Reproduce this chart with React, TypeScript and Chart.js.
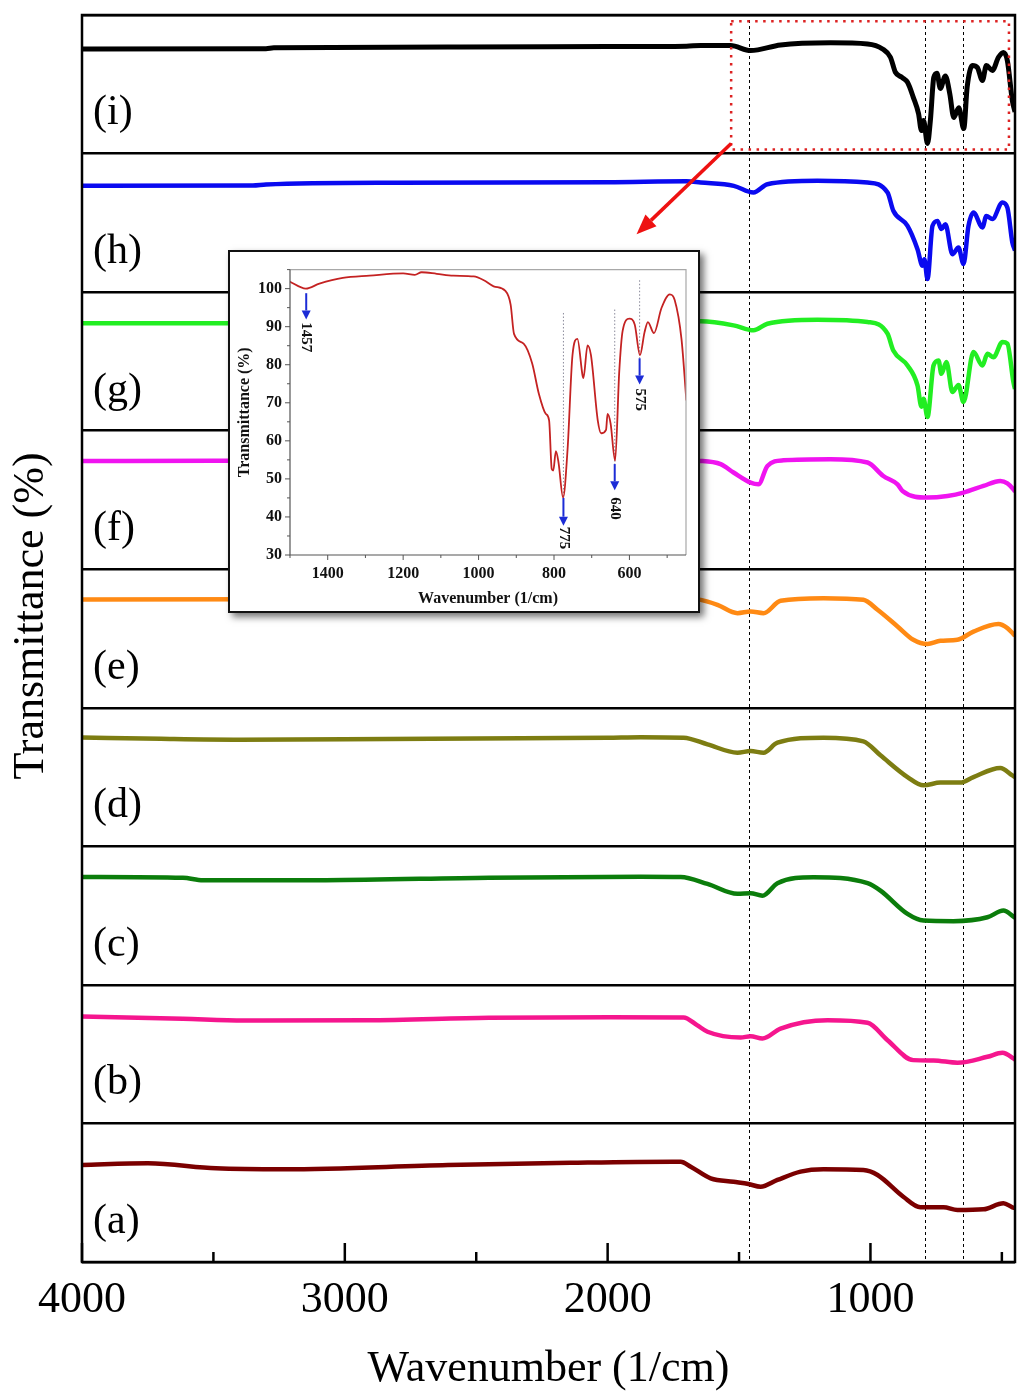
import React, { useEffect, useRef } from 'react';
import { Chart, registerables } from 'chart.js';
Chart.register(...registerables);

// ---------------- main figure data ----------------
const PANEL_LABELS = ['(a)', '(b)', '(c)', '(d)', '(e)', '(f)', '(g)', '(h)', '(i)'];
const PANEL_COLORS = ['#7b0000', '#f5168e', '#0b7d0b', '#7d7d12', '#ff8a14', '#f014f0', '#22ee22', '#0a0af0', '#000000'];
const X_MAJOR = [4000, 3000, 2000, 1000];
const X_MINOR = [3500, 2500, 1500, 500];
const MARKER_LINES = [1464, 791, 647];

// [wavenumber, transmittance within its panel (0-100)]
const curveA: [number, number][] = [[4000, 70], [3749, 71.2], [3490, 67.6], [3228, 66.9], [2608, 70], [2141, 71.6], [1753, 72.4], [1722, 72.4], [1684, 68.8], [1608, 60.4], [1521, 57.9], [1464, 56.3], [1418, 54.3], [1354, 59.2], [1266, 65.2], [1179, 66.9], [1027, 66.4], [973, 62.8], [875, 47.1], [810, 39.5], [722, 39.5], [669, 37.5], [570, 38], [494, 42.4], [460, 39.5], [450, 39]];
const curveB: [number, number][] = [[4000, 77.2], [3616, 75.5], [3384, 74.3], [2916, 74.5], [2452, 76.3], [1989, 76.7], [1711, 76.5], [1660, 71], [1620, 66.2], [1494, 62], [1456, 63], [1411, 61.3], [1342, 68.5], [1163, 74.5], [1011, 72.7], [935, 60.1], [837, 45.7], [760, 45.5], [669, 43.8], [555, 48.1], [498, 51], [456, 46.9], [450, 46]];
const curveC: [number, number][] = [[4000, 77.9], [3616, 77.3], [3540, 75.5], [3072, 75.6], [2452, 77.4], [1874, 78.1], [1722, 77.9], [1620, 72.9], [1506, 65.7], [1456, 66.2], [1411, 64.4], [1354, 73.4], [1217, 77.7], [1011, 73.4], [962, 68], [859, 51.2], [798, 46.4], [684, 46], [555, 48.8], [494, 53.6], [456, 49.3], [450, 48.5]];
const curveD: [number, number][] = [[4000, 78.6], [3700, 77.6], [3400, 77], [3000, 77.2], [2500, 77.8], [2000, 78.4], [1874, 78.8], [1711, 78.4], [1620, 73.6], [1506, 67.6], [1456, 68.8], [1407, 67.6], [1354, 74.8], [1179, 78.4], [1027, 75.8], [962, 65.7], [859, 50], [798, 44], [734, 46], [658, 46], [608, 50], [506, 56.5], [460, 51.2], [450, 50]];
const curveE: [number, number][] = [[4000, 78.2], [2000, 78.5], [1700, 78.5], [1646, 77.9], [1582, 74.3], [1506, 68.3], [1456, 69.5], [1407, 68.3], [1342, 77.2], [1179, 79.1], [1027, 77.9], [973, 70.7], [897, 58.7], [837, 49.1], [783, 46], [734, 48.3], [669, 49.1], [608, 55], [513, 60.4], [479, 57.5], [456, 53.2], [450, 52]];
const curveF: [number, number][] = [[4000, 78.1], [3500, 78.3], [1700, 78.3], [1646, 78.1], [1570, 75.8], [1521, 69.8], [1456, 62.5], [1426, 61.3], [1392, 74.5], [1331, 78.6], [1152, 79.4], [1011, 77], [951, 67.3], [897, 61.3], [878, 56.5], [783, 51.7], [707, 52.9], [646, 55.3], [570, 60.1], [506, 63.7], [479, 62], [456, 57.7], [450, 56]];
const curveG: [number, number][] = [[4000, 77.5], [2000, 78], [1700, 78.5], [1646, 78.9], [1521, 76], [1445, 72.4], [1392, 77.2], [1202, 80.1], [1011, 78.4], [935, 70], [913, 57.9], [859, 47.1], [821, 32.7], [806, 17.3], [798, 23], [783, 9.9], [760, 47], [741, 50.7], [730, 41], [711, 49.5], [688, 27.9], [665, 33], [646, 20.7], [608, 56.7], [574, 47], [555, 55.5], [532, 53], [498, 64], [479, 62.8], [456, 35], [450, 30]];
const curveH: [number, number][] = [[4000, 76.7], [3350, 77], [3300, 77.7], [2800, 79], [2000, 79.3], [1700, 80], [1646, 79.1], [1520, 76.7], [1445, 71.9], [1392, 77.9], [1202, 80.3], [1011, 79.1], [935, 71.9], [913, 58.7], [859, 47.8], [821, 31], [802, 19], [795, 23.8], [783, 9.4], [764, 47.8], [745, 51.4], [730, 45.5], [715, 49], [688, 27.4], [665, 32.2], [646, 20.2], [627, 47.8], [608, 57.5], [574, 46.7], [559, 55], [536, 52.7], [498, 64.7], [479, 61], [460, 35.8], [450, 30]];
const curveI: [number, number][] = [[4000, 75.5], [3300, 75.7], [3270, 76.3], [2560, 76.9], [2000, 77.2], [1700, 77.5], [1646, 78], [1532, 78], [1456, 74.3], [1342, 78.4], [1152, 79.9], [1011, 79.1], [954, 75.5], [924, 69.5], [905, 58.7], [880, 55], [859, 51.4], [837, 40.6], [817, 28.8], [806, 16.6], [798, 23.8], [783, 7.2], [772, 23.8], [759, 55], [747, 58], [734, 47], [715, 56], [698, 43], [683, 26], [664, 33], [645, 18], [632, 48], [612, 63.5], [593, 62], [574, 52.7], [559, 63.5], [536, 60], [513, 69.5], [494, 73], [479, 67], [460, 38], [450, 30]];
const CURVES = [curveA, curveB, curveC, curveD, curveE, curveF, curveG, curveH, curveI];

// zoom box (wavenumber range and panel-(i) transmittance range) and arrow
const ZOOM_BOX_WN = [1530, 473];
const ZOOM_BOX_T = [2.9, 95.5];
const ARROW_FROM: [number, number] = [1530, 8 + 0.072];
const ARROW_TO: [number, number] = [1890, 7 + 0.418];

// ---------------- inset data ----------------
const INSET_X_TICKS = [1400, 1200, 1000, 800, 600];
const INSET_X_MINOR = [1500, 1300, 1100, 900, 700, 500];
const INSET_Y_TICKS = [30, 40, 50, 60, 70, 80, 90, 100];
const INSET_Y_MINOR = [35, 45, 55, 65, 75, 85, 95, 105];
const insetCurve: [number, number][] = [[1502, 101.9], [1458, 100], [1422, 101.3], [1360, 102.8], [1289, 103.4], [1200, 104], [1169, 103.6], [1151, 104.3], [1111, 103.9], [1067, 103.4], [1013, 103.2], [986, 102.2], [960, 100.6], [929, 99.4], [915, 95.8], [906, 88.1], [880, 85.5], [858, 80.4], [840, 72.3], [822, 67.1], [813, 65.4], [806, 52.6], [802, 52.2], [795, 57.3], [788, 54.3], [776, 45.1], [764, 57.8], [751, 82.5], [738, 86.8], [724, 77], [722, 76.5], [711, 85.1], [702, 82.5], [684, 65.4], [675, 62], [662, 62.9], [658, 67.1], [650, 64.6], [638, 54.8], [627, 78.2], [618, 88.9], [600, 92.1], [586, 90.6], [572, 82.5], [560, 88.5], [551, 91.2], [535, 88.3], [515, 94.9], [493, 98.5], [480, 97], [462, 86.8], [449, 70.6]];
const PEAK_WN = [1457, 775, 639, 573];
const PEAK_LABELS = ['1457', '775', '640', '575'];
const PEAK_ARROW_TOP = [98.8, 45, 53.9, 81.7];
const PEAK_ARROW_TIP = [91.9, 37.7, 47, 74.8];
const PEAK_TEXT_MID = [87.2, 34.5, 42.2, 70.8];
const PEAK_GUIDE_TOP = [null, 93.6, 94.5, 102.2];

function drawArrow(ctx: CanvasRenderingContext2D, x1: number, y1: number, x2: number, y2: number, head: number, halfW: number, color: string, lw: number) {
  const ang = Math.atan2(y2 - y1, x2 - x1);
  const bx = x2 - head * Math.cos(ang);
  const by = y2 - head * Math.sin(ang);
  ctx.save();
  ctx.strokeStyle = color;
  ctx.fillStyle = color;
  ctx.lineWidth = lw;
  ctx.setLineDash([]);
  ctx.beginPath();
  ctx.moveTo(x1, y1);
  ctx.lineTo(bx, by);
  ctx.stroke();
  ctx.beginPath();
  ctx.moveTo(x2, y2);
  ctx.lineTo(bx + halfW * Math.sin(ang), by - halfW * Math.cos(ang));
  ctx.lineTo(bx - halfW * Math.sin(ang), by + halfW * Math.cos(ang));
  ctx.closePath();
  ctx.fill();
  ctx.restore();
}

const SERIF = 'Liberation Serif, Times New Roman, serif';

const mainDecor = {
  id: 'mainDecor',
  beforeDatasetsDraw(chart: any) {
    const { ctx, chartArea, scales } = chart;
    const x = scales.x;
    ctx.save();
    ctx.strokeStyle = '#000';
    ctx.lineWidth = 1;
    ctx.setLineDash([3, 3]);
    MARKER_LINES.forEach((wn) => {
      const px = Math.round(x.getPixelForValue(wn)) + 0.5;
      ctx.beginPath();
      ctx.moveTo(px, chartArea.top + 5);
      ctx.lineTo(px, chartArea.bottom);
      ctx.stroke();
    });
    ctx.restore();
  },
  afterDatasetsDraw(chart: any) {
    const { ctx, chartArea, scales } = chart;
    const x = scales.x;
    const y = scales.y;
    ctx.save();
    // frame
    ctx.strokeStyle = '#000';
    ctx.lineWidth = 2.5;
    ctx.strokeRect(chartArea.left, chartArea.top, chartArea.right - chartArea.left, chartArea.bottom - chartArea.top);
    // ticks (inward)
    ctx.lineWidth = 2.5;
    X_MAJOR.forEach((v) => {
      const px = x.getPixelForValue(v);
      ctx.beginPath();
      ctx.moveTo(px, chartArea.bottom);
      ctx.lineTo(px, chartArea.bottom - 19);
      ctx.stroke();
    });
    X_MINOR.forEach((v) => {
      const px = x.getPixelForValue(v);
      ctx.beginPath();
      ctx.moveTo(px, chartArea.bottom);
      ctx.lineTo(px, chartArea.bottom - 10);
      ctx.stroke();
    });
    // panel labels
    ctx.fillStyle = '#000';
    ctx.font = `42px ${SERIF}`;
    ctx.textAlign = 'left';
    ctx.textBaseline = 'middle';
    PANEL_LABELS.forEach((lab, k) => {
      ctx.fillText(lab, 93, y.getPixelForValue(k + 0.29));
    });
    // zoom box
    ctx.strokeStyle = '#dd2222';
    ctx.lineWidth = 2.5;
    ctx.setLineDash([2.5, 5.5]);
    const bx1 = x.getPixelForValue(ZOOM_BOX_WN[0]);
    const bx2 = x.getPixelForValue(ZOOM_BOX_WN[1]);
    const by1 = y.getPixelForValue(8 + ZOOM_BOX_T[1] / 100);
    const by2 = y.getPixelForValue(8 + ZOOM_BOX_T[0] / 100);
    ctx.strokeRect(bx1, by1, bx2 - bx1, by2 - by1);
    ctx.setLineDash([]);
    // arrow
    drawArrow(ctx, x.getPixelForValue(ARROW_FROM[0]), y.getPixelForValue(ARROW_FROM[1]), x.getPixelForValue(ARROW_TO[0]), y.getPixelForValue(ARROW_TO[1]), 20, 8, '#ee1111', 3.5);
    // y title
    ctx.fillStyle = '#000';
    ctx.font = `44px ${SERIF}`;
    ctx.textAlign = 'center';
    ctx.textBaseline = 'middle';
    ctx.translate(31, 616);
    ctx.rotate(-Math.PI / 2);
    ctx.fillText('Transmittance (%)', 0, 0);
    ctx.restore();
  },
};

const insetDecor = {
  id: 'insetDecor',
  beforeDatasetsDraw(chart: any) {
    const { ctx, scales } = chart;
    const x = scales.x;
    const y = scales.y;
    ctx.save();
    ctx.strokeStyle = '#8a8a9a';
    ctx.lineWidth = 1;
    ctx.setLineDash([1.5, 2]);
    PEAK_WN.forEach((wn, i) => {
      const top = PEAK_GUIDE_TOP[i];
      if (top == null) return;
      const px = x.getPixelForValue(wn);
      ctx.beginPath();
      ctx.moveTo(px, y.getPixelForValue(top));
      ctx.lineTo(px, y.getPixelForValue(PEAK_ARROW_TOP[i]));
      ctx.stroke();
    });
    ctx.restore();
  },
  afterDraw(chart: any) {
    const { ctx, chartArea, scales } = chart;
    const x = scales.x;
    const y = scales.y;
    const { left, right, top, bottom } = chartArea;
    ctx.save();
    // frame
    ctx.lineWidth = 1.2;
    ctx.strokeStyle = '#a8a8a8';
    ctx.beginPath();
    ctx.moveTo(left, top);
    ctx.lineTo(right, top);
    ctx.lineTo(right, bottom);
    ctx.stroke();
    ctx.strokeStyle = '#555';
    ctx.beginPath();
    ctx.moveTo(left, top);
    ctx.lineTo(left, bottom);
    ctx.lineTo(right, bottom);
    ctx.stroke();
    // ticks outward
    ctx.lineWidth = 1;
    INSET_X_TICKS.forEach((v) => {
      const px = x.getPixelForValue(v);
      ctx.beginPath(); ctx.moveTo(px, bottom); ctx.lineTo(px, bottom + 5); ctx.stroke();
    });
    INSET_X_MINOR.forEach((v) => {
      const px = x.getPixelForValue(v);
      if (px < left - 0.5 || px > right + 0.5) return;
      ctx.beginPath(); ctx.moveTo(px, bottom); ctx.lineTo(px, bottom + 3); ctx.stroke();
    });
    INSET_Y_TICKS.forEach((v) => {
      const py = y.getPixelForValue(v);
      ctx.beginPath(); ctx.moveTo(left, py); ctx.lineTo(left - 5, py); ctx.stroke();
    });
    INSET_Y_MINOR.forEach((v) => {
      const py = y.getPixelForValue(v);
      if (py < top - 0.5) return;
      ctx.beginPath(); ctx.moveTo(left, py); ctx.lineTo(left - 3, py); ctx.stroke();
    });
    // arrows and labels
    PEAK_WN.forEach((wn, i) => {
      const px = x.getPixelForValue(wn);
      drawArrow(ctx, px, y.getPixelForValue(PEAK_ARROW_TOP[i]), px, y.getPixelForValue(PEAK_ARROW_TIP[i]), 9, 4.5, '#1c2cd6', 2);
      ctx.save();
      ctx.fillStyle = '#111';
      ctx.font = `bold 15px ${SERIF}`;
      ctx.textAlign = 'center';
      ctx.textBaseline = 'middle';
      ctx.translate(px, y.getPixelForValue(PEAK_TEXT_MID[i]));
      ctx.rotate(Math.PI / 2);
      ctx.fillText(PEAK_LABELS[i], 0, 0);
      ctx.restore();
    });
    ctx.restore();
  },
};

export default function App() {
  const mainRef = useRef<HTMLCanvasElement>(null);
  const insetRef = useRef<HTMLCanvasElement>(null);

  useEffect(() => {
    if (!mainRef.current || !insetRef.current) return;
    const datasets = CURVES.map((c, k) => ({
      data: c.map(([wn, t]) => ({ x: wn, y: k + t / 100 })),
      borderColor: PANEL_COLORS[k],
      borderWidth: k === 8 ? 5 : 4.5,
      pointRadius: 0,
      fill: false,
      cubicInterpolationMode: 'monotone' as const,
    }));
    const main = new Chart(mainRef.current, {
      type: 'line',
      data: { datasets },
      options: {
        animation: false,
        responsive: false,
        devicePixelRatio: 1,
        layout: { padding: { top: 15, right: 8, bottom: 3, left: 0 } },
        plugins: { legend: { display: false }, tooltip: { enabled: false } },
        scales: {
          x: {
            type: 'linear',
            min: 450,
            max: 4000,
            reverse: true,
            afterBuildTicks: (s: any) => { s.ticks = X_MAJOR.map((v) => ({ value: v })); },
            afterFit: (s: any) => { s.height = 134; },
            grid: { display: false, drawTicks: false },
            border: { display: false },
            ticks: { autoSkip: false, maxRotation: 0, padding: 12, color: '#000', font: { family: SERIF, size: 44 }, callback: (v: any) => String(v) },
            title: { display: true, text: 'Wavenumber (1/cm)', color: '#000', font: { family: SERIF, size: 44 }, padding: { top: 0, bottom: 0 } },
          },
          y: {
            type: 'linear',
            min: 0,
            max: 9,
            afterBuildTicks: (s: any) => { s.ticks = Array.from({ length: PANEL_LABELS.length + 1 }, (_, i) => ({ value: i })); },
            afterFit: (s: any) => { s.width = 82; },
            ticks: { display: false },
            grid: { color: '#000', lineWidth: 2.5, drawTicks: false },
            border: { display: false },
          },
        },
      },
      plugins: [mainDecor],
    } as any);

    const inset = new Chart(insetRef.current, {
      type: 'line',
      data: {
        datasets: [{
          data: insetCurve.map(([wn, t]) => ({ x: wn, y: t })),
          borderColor: '#c42222',
          borderWidth: 1.8,
          pointRadius: 0,
          fill: false,
          cubicInterpolationMode: 'monotone',
        }],
      },
      options: {
        animation: false,
        responsive: false,
        devicePixelRatio: 1,
        layout: { padding: { top: 10, right: 12, bottom: 0, left: 0 } },
        plugins: { legend: { display: false }, tooltip: { enabled: false } },
        scales: {
          x: {
            type: 'linear',
            min: 450,
            max: 1500,
            reverse: true,
            afterBuildTicks: (s: any) => { s.ticks = INSET_X_TICKS.map((v) => ({ value: v })); },
            afterFit: (s: any) => { s.height = 56; },
            grid: { display: false, drawTicks: false },
            border: { display: false },
            ticks: { autoSkip: false, maxRotation: 0, padding: 9, color: '#111', font: { family: SERIF, size: 16, weight: 'bold' }, callback: (v: any) => String(v) },
            title: { display: true, text: 'Wavenumber (1/cm)', color: '#111', font: { family: SERIF, size: 16, weight: 'bold' }, padding: { top: 0, bottom: 3 } },
          },
          y: {
            type: 'linear',
            min: 30,
            max: 105,
            afterBuildTicks: (s: any) => { s.ticks = INSET_Y_TICKS.map((v) => ({ value: v })); },
            afterFit: (s: any) => { s.width = 60; },
            grid: { display: false, drawTicks: false },
            border: { display: false },
            ticks: { autoSkip: false, padding: 8, color: '#111', font: { family: SERIF, size: 16, weight: 'bold' }, callback: (v: any) => String(v) },
            title: { display: true, text: 'Transmittance (%)', color: '#111', font: { family: SERIF, size: 16, weight: 'bold' }, padding: { top: 5, bottom: 0 } },
          },
        },
      },
      plugins: [insetDecor],
    } as any);

    return () => { main.destroy(); inset.destroy(); };
  }, []);

  return (
    <div style={{ position: 'absolute', left: 0, top: 0, width: 1023, height: 1399, background: '#fff', overflow: 'hidden' }}>
      <canvas ref={mainRef} width={1023} height={1399} style={{ position: 'absolute', left: 0, top: 0 }} />
      <div style={{ position: 'absolute', left: 228, top: 250, width: 472, height: 363, boxSizing: 'border-box', border: '2px solid #111', boxShadow: '4px 4px 7px rgba(0,0,0,0.55)', background: '#fff' }}>
        <canvas ref={insetRef} width={468} height={359} style={{ display: 'block' }} />
      </div>
    </div>
  );
}
